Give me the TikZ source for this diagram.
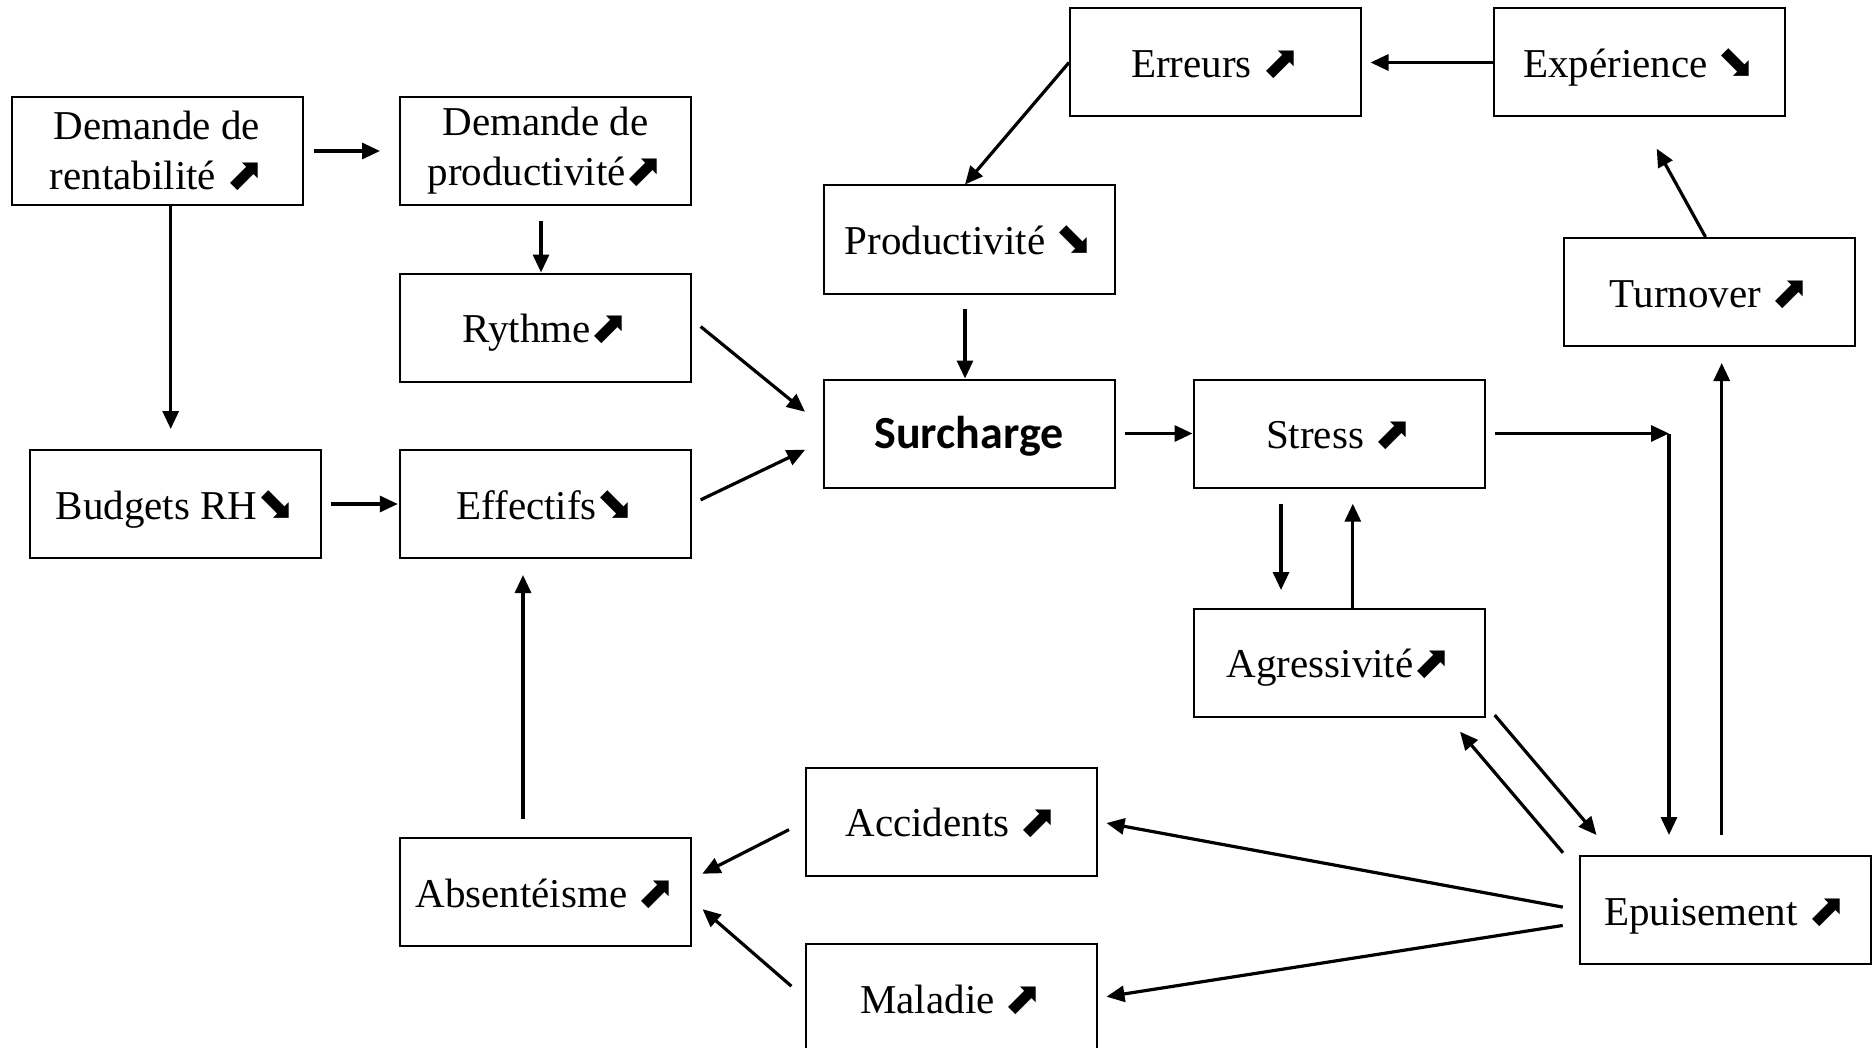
\documentclass[tikz,border=0pt]{standalone}
\usepackage{fontspec}
\setmainfont{Liberation Serif}
\newfontfamily\carlito{Carlito}
\newfontfamily\symfont{DejaVu Sans}
\usepackage{tikz}
\usetikzlibrary{arrows.meta}
\newcommand{\hausse}{{\symfont\scalebox{1.1}{⬈}}}
\newcommand{\baisse}{{\symfont\scalebox{1.1}{⬊}}}
\tikzstyle{factor-box}=[draw, line width=1pt, rectangle, minimum width=145.5pt, minimum height=54pt, align=center, inner sep=1pt, font=\fontsize{20.5}{25}\selectfont]
\tikzstyle{factor-line}=[factor-box, text height=18pt, text depth=3pt]
\tikzstyle{key-box}=[factor-line, font=\carlito\bfseries\fontsize{23}{27}\selectfont]
\tikzstyle{link-arrow}=[-{Triangle[length=9pt,width=8pt]}, line width=1.6pt]

\begin{document}
\begin{tikzpicture}[x=0.5pt, y=-0.5pt]
\useasboundingbox (0,0) rectangle (1872,1048);
\clip (0,0) rectangle (1872,1048);

\node[factor-box] (rentabilite) at (157,151) {Demande de\\rentabilité \hausse};
\node[factor-box] (demprod) at (545.5,151) {Demande de\\productivité\hausse};
\node[factor-line] (rythme) at (545.5,327.5) {Rythme\hausse};
\node[factor-line] (budgets) at (175.5,504) {Budgets RH\baisse};
\node[factor-line] (effectifs) at (545.5,504) {Effectifs\baisse};
\node[factor-line] (absent) at (545.5,892) {Absentéisme \hausse};

\node[factor-line] (productivite) at (969,239.5) {Productivité \baisse};
\node[key-box] (surcharge) at (969,433.5) {Surcharge};
\node[factor-line] (accidents) at (951.5,821.5) {Accidents \hausse};
\node[factor-line] (maladie) at (951.5,998) {Maladie \hausse};

\node[factor-line] (erreurs) at (1215.5,62.5) {Erreurs \hausse};
\node[factor-line] (experience) at (1639.5,62.5) {Expérience \baisse};
\node[factor-line] (stress) at (1339,433.5) {Stress \hausse};
\node[factor-line] (agress) at (1339,662.5) {Agressivité\hausse};
\node[factor-line] (turnover) at (1709.5,292) {Turnover \hausse};
\node[factor-line] (epuisement) at (1725,910) {Epuisement \hausse};

\coordinate (coin) at (1669,433.5);

\draw[link-arrow, shorten <=5pt, shorten >=9.5pt] (rentabilite.east) -- (demprod.west);
\draw[link-arrow, shorten >=10pt] ([xshift=6.85pt]rentabilite.south) -- ([xshift=6.85pt]rentabilite.south |- budgets.north);
\draw[link-arrow, shorten <=7.5pt] ([xshift=-2.25pt]demprod.south) -- ([xshift=-2.25pt]rythme.north);
\draw[link-arrow, shorten <=5.6pt, shorten >=11.3pt] ([yshift=4pt]rythme.east) -- ([yshift=3.75pt]surcharge.west);
\draw[link-arrow, shorten <=4.8pt, shorten >=9.7pt] (effectifs.east) -- ([yshift=-4pt]surcharge.west);
\draw[link-arrow, shorten <=4.25pt, shorten >=0.6pt] (budgets.east) -- (effectifs.west);
\draw[link-arrow, shorten <=9pt, shorten >=8pt] ([xshift=-11.25pt]absent.north) -- ([xshift=-11.25pt]effectifs.south);
\draw[link-arrow, shorten <=9pt, shorten >=5.8pt] (accidents.west) -- ([yshift=6.5pt]absent.east);
\draw[link-arrow, shorten <=9pt, shorten >=7pt] (maladie.west) -- ([yshift=-4pt]absent.east);
\draw[link-arrow, shorten <=8pt, shorten >=4.3pt] (epuisement.west) -- (accidents.east);
\draw[link-arrow, shorten <=8pt, shorten >=4.3pt] ([yshift=-6.5pt]epuisement.west) -- (maladie.east);

\draw[link-arrow] (erreurs.west) -- ([xshift=-2pt]productivite.north);
\draw[link-arrow, shorten >=4.25pt] (experience.west) -- (erreurs.east);
\draw[link-arrow, shorten <=7.25pt] ([xshift=-2pt]productivite.south) -- ([xshift=-2pt]surcharge.north);
\draw[link-arrow, shorten <=4.5pt] (surcharge.east) -- (stress.west);

\draw[link-arrow, shorten <=4.6pt] (stress.east) -- (coin);
\draw[link-arrow, shorten >=10pt] (coin) -- (coin |- epuisement.north);
\draw[link-arrow, shorten <=10pt, shorten >=8pt] ([xshift=-1.65pt]epuisement.north) -- ([xshift=-1.65pt]epuisement.north |- turnover.south);
\draw[link-arrow, shorten >=17.8pt] ([xshift=-2pt]turnover.north) -- (experience.south);

\draw[link-arrow, shorten <=7.6pt, shorten >=8.75pt] ([xshift=-29pt]stress.south) -- ([xshift=-29pt]agress.north);
\draw[link-arrow, shorten >=7.6pt] ([xshift=6.9pt]agress.north) -- ([xshift=6.9pt]stress.south);
\draw[link-arrow] ([xshift=4.6pt,yshift=1.2pt]agress.south east) -- ([xshift=9pt,yshift=10pt]epuisement.north west);
\draw[link-arrow] ([xshift=-7.75pt,yshift=1.1pt]epuisement.north west) -- ([xshift=-12.75pt,yshift=-7.1pt]agress.south east);
\end{tikzpicture}
\end{document}
